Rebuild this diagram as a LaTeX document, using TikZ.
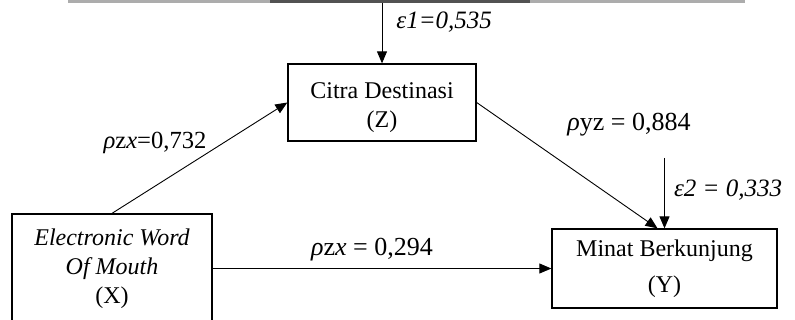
\documentclass[tikz,border=0pt]{standalone}
\usepackage{fontspec}
\setmainfont{Liberation Serif}
\usetikzlibrary{arrows.meta}
\begin{document}
\begin{tikzpicture}[x=0.5pt,y=-0.5pt,
  var/.style={draw,line width=0.65pt,align=center,inner sep=0pt,
    font=\fontsize{12}{14.5}\selectfont},
  arr/.style={line width=0.45pt,-{Triangle[length=6pt,width=5pt]}},
  coef/.style={font=\fontsize{13}{15}\selectfont,inner sep=0pt},
  err/.style={font=\fontsize{12.5}{15}\selectfont\itshape,inner sep=0pt}]
\clip (0,0) rectangle (795,320);
% strip of the preceding text line
\fill[gray!65] (68,0) rectangle (270,3);
\fill[black!68] (270,0) rectangle (530,3);
\fill[gray!65] (530,0) rectangle (745,3);
% variables
\node[var,minimum width=94pt,minimum height=38.5pt] (Z) at (382,102.5)
  {\rule{0pt}{13pt}Citra Destinasi\\(Z)};
\node[var,minimum width=112.5pt,minimum height=39.5pt,
  font=\fontsize{12}{18}\selectfont] (Y) at (664.5,268.5)
  {Minat Berkunjung\\(Y)};
\node[var,minimum width=100pt,minimum height=54.5pt] (X) at (112,268.5)
  {\itshape Electronic Word\\\itshape Of Mouth\\(X)};
% error terms
\coordinate (e1) at (382,3);
\coordinate (e2) at (664.5,158);
% paths
\draw[arr] (e1) -- (Z.north);
\draw[arr] (X.north) -- (Z.west);
\draw[arr] (Z.east) -- ([xshift=-3.5pt]Y.north);
\draw[arr] (e2) -- (Y.north);
\draw[arr] (X.east) -- (Y.west);
% labels
\node[err,anchor=west] (l1) at (396,22) {ε1=0,535};
\node[err] (l2) at (728,190) {ε2 = 0,333};
\node[coef,font=\fontsize{12.3}{15}\selectfont] (l3) at (155,143)
  {\textit{ρ}z\textit{x}=0,732};
\node[coef] (l4) at (629,125) {\textit{ρ}yz = 0,884};
\node[coef] (l5) at (372,250) {\textit{ρ}z\textit{x} = 0,294};
\end{tikzpicture}
\end{document}
